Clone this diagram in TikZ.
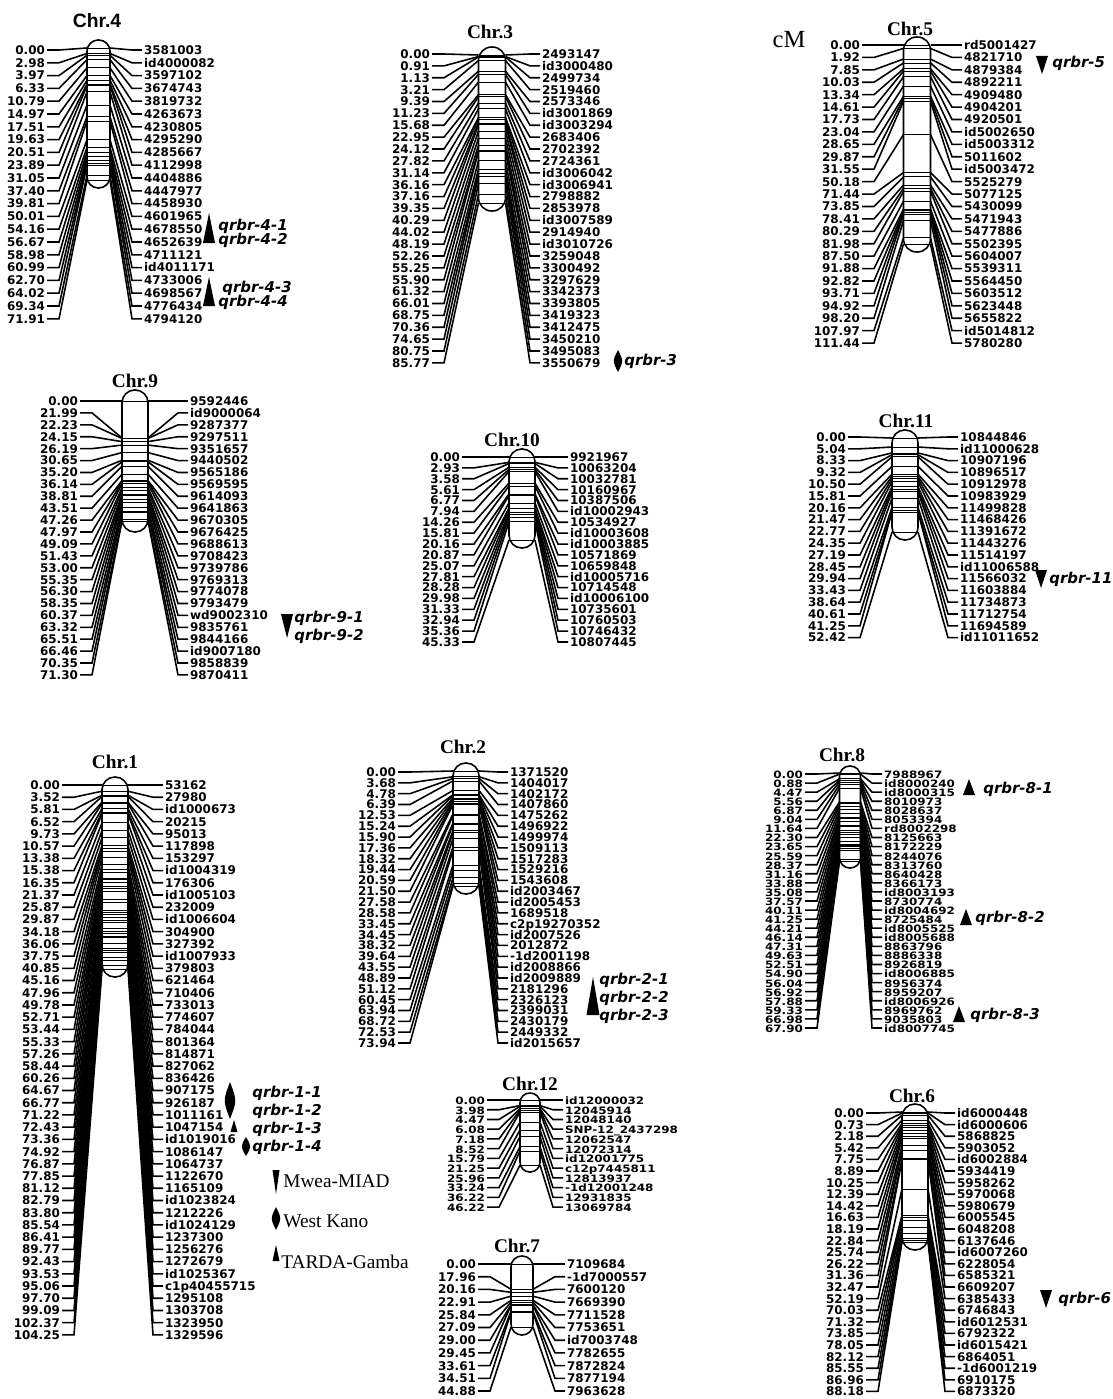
\documentclass[tikz,border=0pt]{standalone}
\usepackage{fontspec}
\setmainfont{Liberation Serif}
\setsansfont{Liberation Sans}
\newfontfamily\labfont{DejaVu Sans}

% chromosome parameters, all in pixel units
\pgfkeys{/chr/.cd,
  x/.store in=\chrX, w/.store in=\chrW, top/.store in=\chrTop, bot/.store in=\chrBot,
  lx/.store in=\chrL, rx/.store in=\chrR, y/.store in=\chrY, dy/.store in=\chrDy,
  max/.store in=\chrMax, off/.store in=\chrOff, sx/.store in=\chrSx, sy/.store in=\chrSy,
  tx/.store in=\chrTx, ty/.store in=\chrTy, tfont/.store in=\chrTf}

\newcommand{\chrmap}[3][]{%
  \begin{scope}
  \pgfkeys{/chr/.cd, w=26, off=8, sx=1, sy=1, tfont=\bfseries, #1}
  \node[chrtitle] (t) at (\chrTx,\chrTy) {\chrTf #2};
  \fill[white, rounded corners={\chrW*0.0098cm}] (\chrX-\chrW/2,\chrTop) rectangle (\chrX+\chrW/2,\chrBot);
  \foreach \cm/\mk [count=\i] in {#3} {
    \pgfmathsetmacro{\yl}{\chrY+(\i-1)*\chrDy}
    \pgfmathsetmacro{\yt}{\chrTop+\chrOff+\cm/\chrMax*(\chrBot-\chrTop-2*\chrOff)}
    \node[cmlabel] (l\i) at (\chrL,\yl) {\scalebox{\chrSx}[\chrSy]{\cm}};
    \node[mklabel] (r\i) at (\chrR,\yl) {\scalebox{\chrSx}[\chrSy]{\mk}};
    \coordinate (a\i) at (\chrX-\chrW/2,\yt);
    \coordinate (b\i) at (\chrX+\chrW/2,\yt);
    \draw[fan] (l\i.east) -- ++(12,0) -- (a\i);
    \draw[fan] (b\i) -- ([xshift=-0.2cm]r\i.west) -- (r\i.west);
  }
  \begin{scope}
    \clip[rounded corners={\chrW*0.0098cm}] (\chrX-\chrW/2,\chrTop) rectangle (\chrX+\chrW/2,\chrBot);
    \foreach \cm/\mk [count=\i] in {#3} {\draw[band] (a\i) -- (b\i);}
  \end{scope}
  \draw[chrbar, rounded corners={\chrW*0.0098cm}] (\chrX-\chrW/2,\chrTop) rectangle (\chrX+\chrW/2,\chrBot);
  \end{scope}}

% QTL marks: x, top, bottom, half width
\newcommand{\mwea}[4]{\fill (#1-#4,#2) -- (#1+#4,#2) -- (#1,#3) -- cycle;}
\newcommand{\tarda}[4]{\fill (#1,#2) -- (#1+#4,#3) -- (#1-#4,#3) -- cycle;}
\newcommand{\wkano}[4]{\fill (#1,#2) .. controls (#1+1.4*#4,{(#2+#3)/2}) .. (#1,#3) .. controls (#1-1.4*#4,{(#2+#3)/2}) .. (#1,#2);}

\begin{document}
\begin{tikzpicture}[x=0.02cm, y=-0.02cm,
  cmlabel/.style={anchor=east, inner sep=1pt, text height=5pt, text depth=0pt, font=\labfont\bfseries\fontsize{6.8}{8}\selectfont},
  mklabel/.style={anchor=west, inner sep=1pt, text height=5pt, text depth=0pt, font=\labfont\bfseries\fontsize{6.8}{8}\selectfont},
  fan/.style={line width=0.9pt},
  band/.style={line width=0.45pt},
  chrbar/.style={line width=0.9pt},
  chrtitle/.style={inner sep=0pt, font=\fontsize{11}{13}\selectfont},
  qtl/.style={anchor=west, inner sep=0pt, font=\labfont\bfseries\itshape\fontsize{8.5}{10}\selectfont},
  legend/.style={anchor=west, inner sep=0pt, font=\fontsize{11}{13}\selectfont}]
\fill[white] (0,0) rectangle (1112,1399);
\useasboundingbox (0,0) rectangle (1112,1399);
\node[font=\fontsize{14}{16}\selectfont] (cm) at (789,40) {cM};

% Chr.4
\chrmap[x=98.5, w=23, top=40, bot=188, lx=47, rx=142, y=50, dy=12.8, max=71.91, tx=97, ty=21, tfont=\sffamily\bfseries]{Chr.4}{
  0.00/3581003, 2.98/id4000082, 3.97/3597102, 6.33/3674743, 10.79/3819732, 14.97/4263673,
  17.51/4230805, 19.63/4295290, 20.51/4285667, 23.89/4112998, 31.05/4404886, 37.40/4447977,
  39.81/4458930, 50.01/4601965, 54.16/4678550, 56.67/4652639, 58.98/4711121, 60.99/id4011171,
  62.70/4733006, 64.02/4698567, 69.34/4776434, 71.91/4794120}
\tarda{209}{213}{243}{6}
\tarda{209}{277}{306}{6}
\node[qtl] (q41) at (218,226) {qrbr-4-1};
\node[qtl] (q42) at (218,240) {qrbr-4-2};
\node[qtl] (q43) at (222,288) {qrbr-4-3};
\node[qtl] (q44) at (218,302) {qrbr-4-4};

% Chr.3
\chrmap[x=492, w=27, top=47, bot=211, lx=432, rx=540, y=54, dy=11.88, max=85.77, tx=490, ty=32]{Chr.3}{
  0.00/2493147, 0.91/id3000480, 1.13/2499734, 3.21/2519460, 9.39/2573346, 11.23/id3001869,
  15.68/id3003294, 22.95/2683406, 24.12/2702392, 27.82/2724361, 31.14/id3006042, 36.16/id3006941,
  37.16/2798882, 39.35/2853978, 40.29/id3007589, 44.02/2914940, 48.19/id3010726, 52.26/3259048,
  55.25/3300492, 55.90/3297629, 61.32/3342373, 66.01/3393805, 68.75/3419323, 70.36/3412475,
  74.65/3450210, 80.75/3495083, 85.77/3550679}
\wkano{618}{350}{372}{4}
\node[qtl] (q3) at (624,361) {qrbr-3};

% Chr.5
\chrmap[x=917, w=27, top=37, bot=252, lx=862, rx=962, y=45, dy=12.42, max=111.44, tx=910, ty=29]{Chr.5}{
  0.00/rd5001427, 1.92/4821710, 7.85/4879384, 10.03/4892211, 13.34/4909480, 14.61/4904201,
  17.73/4920501, 23.04/id5002650, 28.65/id5003312, 29.87/5011602, 31.55/id5003472, 50.18/5525279,
  71.44/5077125, 73.85/5430099, 78.41/5471943, 80.29/5477886, 81.98/5502395, 87.50/5604007,
  91.88/5539311, 92.82/5564450, 93.71/5603512, 94.92/5623448, 98.20/5655822, 107.97/id5014812,
  111.44/5780280}
\mwea{1042}{56}{74}{6}
\node[qtl] (q5) at (1052,63) {qrbr-5};

% Chr.9
\chrmap[x=135, w=26, top=390, bot=532, lx=80, rx=188, y=401, dy=11.91, max=71.30, off=11, tx=135, ty=381]{Chr.9}{
  0.00/9592446, 21.99/id9000064, 22.23/9287377, 24.15/9297511, 26.19/9351657, 30.65/9440502,
  35.20/9565186, 36.14/9569595, 38.81/9614093, 43.51/9641863, 47.26/9670305, 47.97/9676425,
  49.09/9688613, 51.43/9708423, 53.00/9739786, 55.35/9769313, 56.30/9774078, 58.35/9793479,
  60.37/wd9002310, 63.32/9835761, 65.51/9844166, 66.46/id9007180, 70.35/9858839, 71.30/9870411}
\mwea{287}{614}{638}{6}
\node[qtl] (q91) at (294,618) {qrbr-9-1};
\node[qtl] (q92) at (294,636) {qrbr-9-2};

% Chr.10
\chrmap[x=522, w=26, top=449, bot=548, lx=462, rx=568, y=457, dy=10.88, max=45.33, tx=512, ty=440]{Chr.10}{
  0.00/9921967, 2.93/10063204, 3.58/10032781, 5.61/10160967, 6.77/10387506, 7.94/id10002943,
  14.26/10534927, 15.81/id10003608, 20.16/id10003885, 20.87/10571869, 25.07/10659848,
  27.81/id10005716, 28.28/10714548, 29.98/id10006100, 31.33/10735601, 32.94/10760503,
  35.36/10746432, 45.33/10807445}

% Chr.11
\chrmap[x=905, w=26, top=430, bot=540, lx=848, rx=958, y=437, dy=11.8, max=52.42, tx=906, ty=421]{Chr.11}{
  0.00/10844846, 5.04/id11000628, 8.33/10907196, 9.32/10896517, 10.50/10912978, 15.81/10983929,
  20.16/11499828, 21.47/11468426, 22.77/11391672, 24.35/11443276, 27.19/11514197,
  28.45/id11006588, 29.94/11566032, 33.43/11603884, 38.64/11734873, 40.61/11712754,
  41.25/11694589, 52.42/id11011652}
\mwea{1041}{570}{588}{6}
\node[qtl] (q11) at (1049,579) {qrbr-11};

% Chr.1
\chrmap[x=115, w=26, top=777, bot=977, lx=62, rx=163, y=785, dy=12.22, max=104.25, tx=115, ty=762]{Chr.1}{
  0.00/53162, 3.52/27980, 5.81/id1000673, 6.52/20215, 9.73/95013, 10.57/117898, 13.38/153297,
  15.38/id1004319, 16.35/176306, 21.37/id1005103, 25.87/232009, 29.87/id1006604, 34.18/304900,
  36.06/327392, 37.75/id1007933, 40.85/379803, 45.16/621464, 47.96/710406, 49.78/733013,
  52.71/774607, 53.44/784044, 55.33/801364, 57.26/814871, 58.44/827062, 60.26/836426,
  64.67/907175, 66.77/926187, 71.22/1011161, 72.43/1047154, 73.36/id1019016, 74.92/1086147,
  76.87/1064737, 77.85/1122670, 81.12/1165109, 82.79/id1023824, 83.80/1212226, 85.54/id1024129,
  86.41/1237300, 89.77/1256276, 92.43/1272679, 93.53/id1025367, 95.06/c1p40455715,
  97.70/1295108, 99.09/1303708, 102.37/1323950, 104.25/1329596}
\wkano{230}{1082}{1119}{5}
\tarda{234}{1120}{1132}{3.5}
\wkano{246}{1137}{1156}{4}
\node[qtl] (q11a) at (252,1093) {qrbr-1-1};
\node[qtl] (q12) at (252,1111) {qrbr-1-2};
\node[qtl] (q13) at (252,1129) {qrbr-1-3};
\node[qtl] (q14) at (252,1147) {qrbr-1-4};
% legend
\mwea{276}{1170}{1194}{3.5}
\node[legend] (leg1) at (283,1181) {Mwea-MIAD};
\wkano{276}{1207}{1230}{4}
\node[legend] (leg2) at (283,1221) {West Kano};
\tarda{276}{1245}{1261}{3.5}
\node[legend] (leg3) at (281,1262) {TARDA-Gamba};

% Chr.2
\chrmap[x=466, w=26, top=763, bot=894, lx=398, rx=508, y=772, dy=10.84, max=73.94, tx=463, ty=747]{Chr.2}{
  0.00/1371520, 3.68/1404017, 4.78/1402172, 6.39/1407860, 12.53/1475262, 15.24/1496922,
  15.90/1499974, 17.36/1509113, 18.32/1517283, 19.44/1529216, 20.59/1543608, 21.50/id2003467,
  27.58/id2005453, 28.58/1689518, 33.45/c2p19270352, 34.45/id2007526, 38.32/2012872,
  39.64/-1d2001198, 43.55/id2008866, 48.89/id2009889, 51.12/2181296, 60.45/2326123,
  63.94/2399031, 68.72/2430179, 72.53/2449332, 73.94/id2015657}
\tarda{593}{977}{1015}{6.5}
\node[qtl] (q21) at (599,980) {qrbr-2-1};
\node[qtl] (q22) at (599,998) {qrbr-2-2};
\node[qtl] (q23) at (599,1016) {qrbr-2-3};

% Chr.8
\chrmap[x=850, w=21, top=766, bot=868, lx=805, rx=882, y=774, dy=9.07, max=67.90, off=7, sy=0.85, tx=842, ty=755]{Chr.8}{
  0.00/7988967, 0.88/id8000240, 4.47/id8000315, 5.56/8010973, 6.87/8028637, 9.04/8053394,
  11.64/rd8002298, 22.30/8125663, 23.65/8172229, 25.59/8244076, 28.37/8313760, 31.16/8640428,
  33.88/8366173, 35.08/id8003193, 37.57/8730774, 40.11/id8004692, 41.25/8725484,
  44.21/id8005525, 46.14/id8005688, 47.31/8863796, 49.63/8886338, 52.51/8926819,
  54.90/id8006885, 56.04/8956374, 56.92/8959207, 57.88/id8006926, 59.33/8969762,
  66.98/9035803, 67.90/id8007745}
\tarda{969}{779}{795}{6}
\node[qtl] (q81) at (983,789) {qrbr-8-1};
\tarda{966}{909}{925}{6}
\node[qtl] (q82) at (975,918) {qrbr-8-2};
\tarda{959}{1006}{1022}{6}
\node[qtl] (q83) at (970,1015) {qrbr-8-3};

% Chr.12
\chrmap[x=530, w=20, top=1093, bot=1172, lx=487, rx=563, y=1100, dy=9.73, max=46.22, off=7, sy=0.85, tx=530, ty=1084]{Chr.12}{
  0.00/id12000032, 3.98/12045914, 4.47/12048140, 6.08/SNP-12\_2437298, 7.18/12062547,
  8.52/12072314, 15.79/id12001775, 21.25/c12p7445811, 25.96/12813937, 33.24/-1d12001248,
  36.22/12931835, 46.22/13069784}

% Chr.7
\chrmap[x=522, w=22, top=1256, bot=1335, lx=478, rx=565, y=1264, dy=12.7, max=44.88, tx=517, ty=1246]{Chr.7}{
  0.00/7109684, 17.96/-1d7000557, 20.16/7600120, 22.91/7669390, 25.84/7711528, 27.09/7753651,
  29.00/id7003748, 29.45/7782655, 33.61/7872824, 34.51/7877194, 44.88/7963628}

% Chr.6
\chrmap[x=915, w=26, top=1104, bot=1250, lx=866, rx=955, y=1113, dy=11.6, max=88.18, tx=912, ty=1096]{Chr.6}{
  0.00/id6000448, 0.73/id6000606, 2.18/5868825, 5.42/5903052, 7.75/id6002884, 8.89/5934419,
  10.25/5958262, 12.39/5970068, 14.42/5980679, 16.63/6005545, 18.19/6048208, 22.84/6137646,
  25.74/id6007260, 26.22/6228054, 31.36/6585321, 32.47/6609207, 52.19/6385433, 70.03/6746843,
  71.32/id6012531, 73.85/6792322, 78.05/id6015421, 82.12/6864051, 85.55/-1d6001219,
  86.96/6910175, 88.18/6873320}
\mwea{1046}{1290}{1308}{6}
\node[qtl] (q6) at (1058,1299) {qrbr-6};
\end{tikzpicture}
\end{document}
